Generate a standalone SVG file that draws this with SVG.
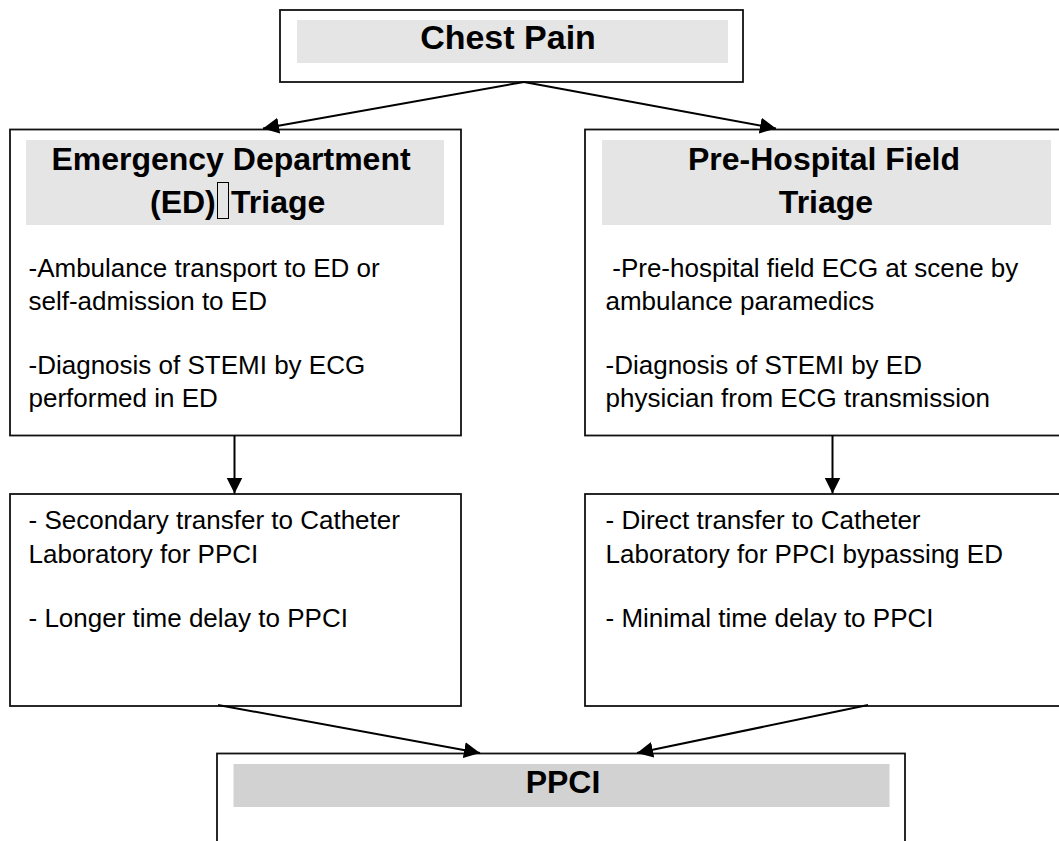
<svg xmlns="http://www.w3.org/2000/svg" width="1059" height="841" viewBox="0 0 1059 841">
  <style>
    .box { fill: #ffffff; stroke: #111111; stroke-width: 1.8; }
    .band { fill: #e5e5e5; stroke: none; }
    .band2 { fill: #d2d2d2; stroke: none; }
    .head { font-family: "Liberation Sans", Arial, sans-serif; font-weight: bold; font-size: 32px; fill: #000; }
    .body { font-family: "Liberation Sans", Arial, sans-serif; font-size: 26px; fill: #000; }
    .conn { stroke: #000; stroke-width: 2; fill: none; }
  </style>
  <defs>
    <marker id="arrow" markerUnits="userSpaceOnUse" markerWidth="17" markerHeight="17" refX="16" refY="8" orient="auto">
      <path d="M0,0 L16,8 L0,16 z" fill="#000"/>
    </marker>
  </defs>
  <rect width="1059" height="841" fill="#ffffff"/>

  <g id="chest-pain">
    <rect class="box" x="280" y="10" width="463" height="72"/>
    <rect class="band" x="297" y="20" width="431" height="43"/>
    <text class="head" x="508" y="49" text-anchor="middle" style="font-size:34px">Chest Pain</text>
  </g>

  <g id="ed-triage">
    <rect class="box" x="10" y="129.5" width="451" height="306"/>
    <rect class="band" x="26" y="140" width="418" height="85"/>
    <text class="head" x="231" y="170" text-anchor="middle">Emergency Department</text>
    <text class="head" x="150" y="213">(ED)</text>
    <rect x="217.5" y="182.5" width="11" height="36" fill="none" stroke="#000" stroke-width="1"/>
    <text class="head" x="231" y="213">Triage</text>
    <text class="body" x="28.5" y="277">-Ambulance transport to ED or</text>
    <text class="body" x="28.5" y="310">self-admission to ED</text>
    <text class="body" x="28.5" y="374">-Diagnosis of STEMI by ECG</text>
    <text class="body" x="28.5" y="407">performed in ED</text>
  </g>

  <g id="prehospital-triage">
    <rect class="box" x="585" y="129.5" width="490" height="306"/>
    <rect class="band" x="602" y="140" width="449" height="85"/>
    <text class="head" x="824" y="170" text-anchor="middle">Pre-Hospital Field</text>
    <text class="head" x="826" y="213" text-anchor="middle">Triage</text>
    <text class="body" x="605" y="277" xml:space="preserve"> -Pre-hospital field ECG at scene by</text>
    <text class="body" x="605.5" y="310">ambulance paramedics</text>
    <text class="body" x="605.5" y="374">-Diagnosis of STEMI by ED</text>
    <text class="body" x="605.5" y="407">physician from ECG transmission</text>
  </g>

  <g id="secondary-transfer">
    <rect class="box" x="10" y="494" width="451" height="212"/>
    <text class="body" x="28.5" y="529">- Secondary transfer to Catheter</text>
    <text class="body" x="28.5" y="563">Laboratory for PPCI</text>
    <text class="body" x="28.5" y="627">- Longer time delay to PPCI</text>
  </g>

  <g id="direct-transfer">
    <rect class="box" x="585" y="494" width="490" height="212"/>
    <text class="body" x="605.5" y="529">- Direct transfer to Catheter</text>
    <text class="body" x="605.5" y="563">Laboratory for PPCI bypassing ED</text>
    <text class="body" x="605.5" y="627">- Minimal time delay to PPCI</text>
  </g>

  <g id="ppci">
    <rect class="box" x="217" y="753.5" width="688" height="110"/>
    <rect class="band2" x="233.5" y="764" width="656" height="43"/>
    <text class="head" x="563" y="793" text-anchor="middle">PPCI</text>
  </g>

  <g id="connectors">
    <line class="conn" x1="524" y1="82" x2="263" y2="128.5" marker-end="url(#arrow)"/>
    <line class="conn" x1="524" y1="82" x2="776" y2="128.5" marker-end="url(#arrow)"/>
    <line class="conn" x1="234.5" y1="435.5" x2="234.5" y2="493.5" marker-end="url(#arrow)"/>
    <line class="conn" x1="832.5" y1="435.5" x2="832.5" y2="493.5" marker-end="url(#arrow)"/>
    <line class="conn" x1="218" y1="705" x2="480" y2="753" marker-end="url(#arrow)"/>
    <line class="conn" x1="868" y1="705" x2="637" y2="753" marker-end="url(#arrow)"/>
  </g>
</svg>
